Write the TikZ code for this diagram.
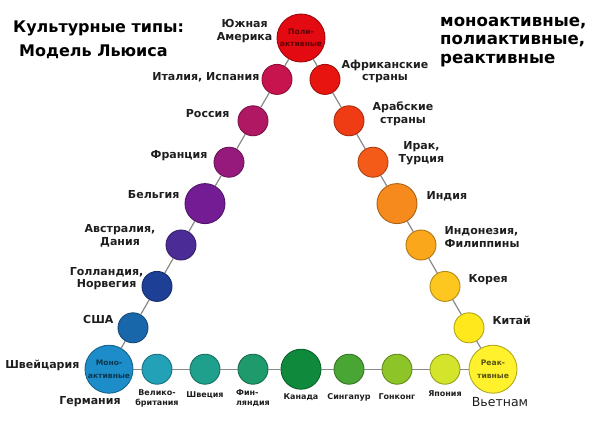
\documentclass[tikz,border=0pt]{standalone}
\usepackage{fontspec}
\setmainfont{DejaVu Sans}
\usetikzlibrary{positioning}

\definecolor{cPoly}{HTML}{E30A12}
\definecolor{cItaly}{HTML}{C8144E}
\definecolor{cRussia}{HTML}{B01864}
\definecolor{cFrance}{HTML}{951A7C}
\definecolor{cBelgium}{HTML}{731C94}
\definecolor{cAustralia}{HTML}{4B2C96}
\definecolor{cHolland}{HTML}{1D4096}
\definecolor{cUSA}{HTML}{1967AB}
\definecolor{cMono}{HTML}{1C8DC9}
\definecolor{cBritain}{HTML}{23A1B6}
\definecolor{cSweden}{HTML}{1FA08C}
\definecolor{cFinland}{HTML}{1E9A6C}
\definecolor{cCanada}{HTML}{0F8A3C}
\definecolor{cSingapore}{HTML}{4AA634}
\definecolor{cHongkong}{HTML}{8DC427}
\definecolor{cJapan}{HTML}{D3E42B}
\definecolor{cReact}{HTML}{FFF22C}
\definecolor{cChina}{HTML}{FFE91D}
\definecolor{cKorea}{HTML}{FDC71F}
\definecolor{cIndonesia}{HTML}{FBA71B}
\definecolor{cIndia}{HTML}{F78A1D}
\definecolor{cIraq}{HTML}{F45B18}
\definecolor{cArab}{HTML}{F03C15}
\definecolor{cAfrica}{HTML}{E81410}
\definecolor{linegray}{HTML}{888888}
\definecolor{ink}{HTML}{1E1E1E}

\tikzset{
  country/.style={circle, draw=#1!70!black, fill=#1, line width=0.9pt,
    minimum size=30pt, inner sep=0pt},
  conn/.style={draw=linegray, line width=1.2pt},
  lbl/.style={font=\bfseries\fontsize{11}{12.5}\selectfont, text=ink,
    inner sep=0pt, align=center},
  botlbl/.style={font=\bfseries\fontsize{8}{10}\selectfont, text=ink,
    inner sep=0pt, align=center},
  headline/.style={font=\bfseries\fontsize{16}{18.5}\selectfont, text=black,
    inner sep=0pt},
  intext/.style={font=\bfseries\fontsize{7.6}{12.5}\selectfont, align=center,
    inner sep=0pt}
}

\begin{document}
\begin{tikzpicture}[x=1pt, y=-1pt]
    \useasboundingbox[fill=white] (0,0) rectangle (599,420);

    % corners of the triangle
    \node[country=cPoly, minimum size=48pt] (poly) at (301,38) {};
    \node[country=cMono, minimum size=48pt] (mono) at (109,369.2) {};
    \node[country=cReact, minimum size=48pt] (react) at (493,369.2) {};

    % left side, right side, bottom row
    \foreach \i/\c/\s in {1/cItaly/30,2/cRussia/30,3/cFrance/30,4/cBelgium/40,5/cAustralia/30,6/cHolland/30,7/cUSA/30}
        \node[country=\c, minimum size=\s pt] (l\i) at ({301-24*\i},{38+41.4*\i}) {};
    \foreach \i/\c/\s in {1/cAfrica/30,2/cArab/30,3/cIraq/30,4/cIndia/40,5/cIndonesia/30,6/cKorea/30,7/cChina/30}
        \node[country=\c, minimum size=\s pt] (r\i) at ({301+24*\i},{38+41.4*\i}) {};
    \foreach \i/\c/\s in {1/cBritain/30,2/cSweden/30,3/cFinland/30,4/cCanada/40,5/cSingapore/30,6/cHongkong/30,7/cJapan/30}
        \node[country=\c, minimum size=\s pt] (b\i) at ({109+48*\i},369.2) {};

    \foreach \a/\b in {poly/l1,l1/l2,l2/l3,l3/l4,l4/l5,l5/l6,l6/l7,l7/mono,
                       mono/b1,b1/b2,b2/b3,b3/b4,b4/b5,b5/b6,b6/b7,b7/react,
                       react/r7,r7/r6,r6/r5,r5/r4,r4/r3,r3/r2,r2/r1,r1/poly}
        \draw[conn] (\a) -- (\b);

    \node[intext, text=cPoly!40!black] (polytxt) at (poly) {Поли-\\активные};
    \node[intext, text=cMono!40!black] (monotxt) at (mono) {Моно-\\активные};
    \node[intext, text=cReact!35!black] (reacttxt) at (react) {Реак-\\тивные};

    % titles
    \node[headline, anchor=west] (head1) at (13,28) {Культурные типы:};
    \node[headline, anchor=west] (head2) at (19,52) {Модель Льюиса};
    \node[headline, anchor=west, align=left, font=\bfseries\fontsize{16.6}{18.5}\selectfont]
        (head3) at (440,42) {моноактивные,\\полиактивные,\\реактивные};

    % country labels
    \node[lbl, left=4pt of poly, yshift=7pt] (tSAm) {Южная\\Америка};
    \node[lbl, left=2pt of l1, yshift=2pt] (tIta) {Италия, Испания};
    \node[lbl, left=8pt of l2, yshift=7pt] (tRus) {Россия};
    \node[lbl, left=6pt of l3, yshift=7pt] (tFra) {Франция};
    \node[lbl, left=5pt of l4, yshift=9pt] (tBel) {Бельгия};
    \node[lbl, left=10pt of l5, yshift=9pt] (tAus) {Австралия,\\Дания};
    \node[lbl, left=-2pt of l6, yshift=8pt] (tHol) {Голландия,\\Норвегия};
    \node[lbl, left=4pt of l7, yshift=8pt] (tUSA) {США};
    \node[lbl, left=5pt of mono, yshift=4pt] (tSwi) {Швейцария};
    \node[lbl, below=3pt of mono, xshift=-19pt] (tGer) {Германия};

    \node[lbl, right=1pt of r1, yshift=8pt] (tAfr) {Африканские\\страны};
    \node[lbl, right=8pt of r2, yshift=7pt] (tArab) {Арабские\\страны};
    \node[lbl, right=10pt of r3, yshift=9pt] (tIraq) {Ирак,\\Турция};
    \node[lbl, right=9pt of r4, yshift=7pt] (tInd) {Индия};
    \node[lbl, align=left, right=8pt of r5, yshift=8pt] (tIdn) {Индонезия,\\Филиппины};
    \node[lbl, right=8pt of r6, yshift=7pt] (tKor) {Корея};
    \node[lbl, right=8pt of r7, yshift=7pt] (tChn) {Китай};
    \node[font=\fontsize{12.5}{14}\selectfont, text=ink, inner sep=0pt,
          below=4pt of react, xshift=7pt] (tViet) {Вьетнам};

    \node[botlbl, below=5pt of b1] (tGB) {Велико-\\британия};
    \node[botlbl, below=7pt of b2] (tSwe) {Швеция};
    \node[botlbl, align=left, below=5pt of b3] (tFin) {Фин-\\ляндия};
    \node[botlbl, below=4pt of b4] (tCan) {Канада};
    \node[botlbl, below=9pt of b5] (tSin) {Сингапур};
    \node[botlbl, below=9pt of b6] (tHK) {Гонконг};
    \node[botlbl, below=6pt of b7] (tJap) {Япония};
\end{tikzpicture}
\end{document}
